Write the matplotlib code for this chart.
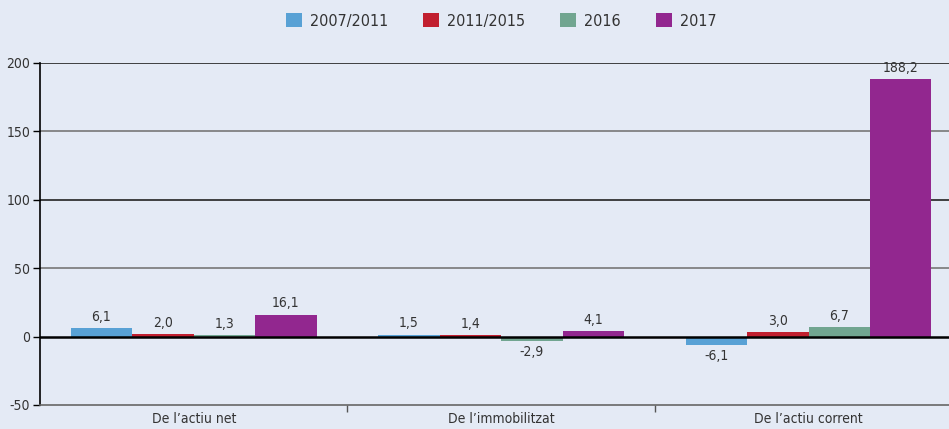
import matplotlib
matplotlib.use('Agg')
import matplotlib.pyplot as plt
from matplotlib.font_manager import FontProperties
import numpy as np

# 数据
categories = ['De l’actiu net', 'De l’immobilitzat', 'De l’actiu corrent']
series = ['2007/2011', '2011/2015', '2016', '2017']
v_2007_2011 = [6.1, 1.5, -6.1]
v_2011_2015 = [2.0, 1.4, 3.0]
v_2016 = [1.3, -2.9, 6.7]
v_2017 = [16.1, 4.1, 188.2]
colors = ['#58a1d5', '#c11f2f', '#71a590', '#92278f']

plt.rcParams['font.family'] = ['DejaVu Sans']
plt.rcParams['font.stretch'] = 'condensed'
bg = '#e4eaf5'
txt_c = '#333333'

fig = plt.figure(figsize=(9.49, 4.29), dpi=100, facecolor=bg)
ax = fig.add_axes([40 / 949, 1 - 405 / 429, 1 - 40 / 949, (405 - 63) / 429])
ax.set_facecolor(bg)

x = np.arange(len(categories))
width = 0.2
all_values = [v_2007_2011, v_2011_2015, v_2016, v_2017]
for i, (name, vals, c) in enumerate(zip(series, all_values, colors)):
    pos = x + (i - 1.5) * width
    ax.bar(pos, vals, width, color=c, label=name, zorder=3)
    for px, v in zip(pos, vals):
        txt = f'{v:.1f}'.replace('.', ',')
        if v >= 0:
            ax.annotate(txt, (px, v), xytext=(0, 3), textcoords='offset points',
                        ha='center', va='bottom', fontsize=10, color=txt_c, zorder=4)
        else:
            ax.annotate(txt, (px, v), xytext=(0, -3), textcoords='offset points',
                        ha='center', va='top', fontsize=10, color=txt_c, zorder=4)

ax.set_ylim(-50, 200)
ax.set_xlim(-0.5, 2.457)
ax.set_yticks([-50, 0, 50, 100, 150, 200])
ax.set_yticklabels(['-50', '0', '50', '100', '150', '200'])
ax.tick_params(axis='y', length=5, width=1, color='black', labelsize=10, labelcolor=txt_c, pad=2)

# etiquetes de categoria + marques entre grups
ax.set_xticks([0.5, 1.5])
ax.set_xticklabels([])
ax.set_xticks(x, minor=True)
ax.set_xticklabels(categories, minor=True)
ax.tick_params(axis='x', which='major', length=5, width=1, color='#555555')
ax.tick_params(axis='x', which='minor', length=0, labelsize=10, labelcolor=txt_c, pad=5)

for y, c in [(50, '#777777'), (100, '#222222'), (150, '#777777'), (200, '#222222')]:
    ax.axhline(y, color=c, lw=1.2, zorder=1)
ax.axhline(0, color='black', lw=1.8, zorder=4)

for s in ['top', 'right']:
    ax.spines[s].set_visible(False)
ax.spines['left'].set_color('black')
ax.spines['left'].set_linewidth(1.2)
ax.spines['bottom'].set_color('#666666')
ax.spines['bottom'].set_linewidth(1.2)

leg_font = FontProperties(family='DejaVu Sans', stretch='condensed', size=11.5)
fig.legend(loc='upper center', bbox_to_anchor=(0.528, 1.003), ncol=4, frameon=False,
           prop=leg_font, handlelength=1.0, handleheight=1.0, columnspacing=2.2,
           handletextpad=0.5, labelcolor=txt_c)

fig.savefig('out.png', dpi=100, facecolor=bg)
